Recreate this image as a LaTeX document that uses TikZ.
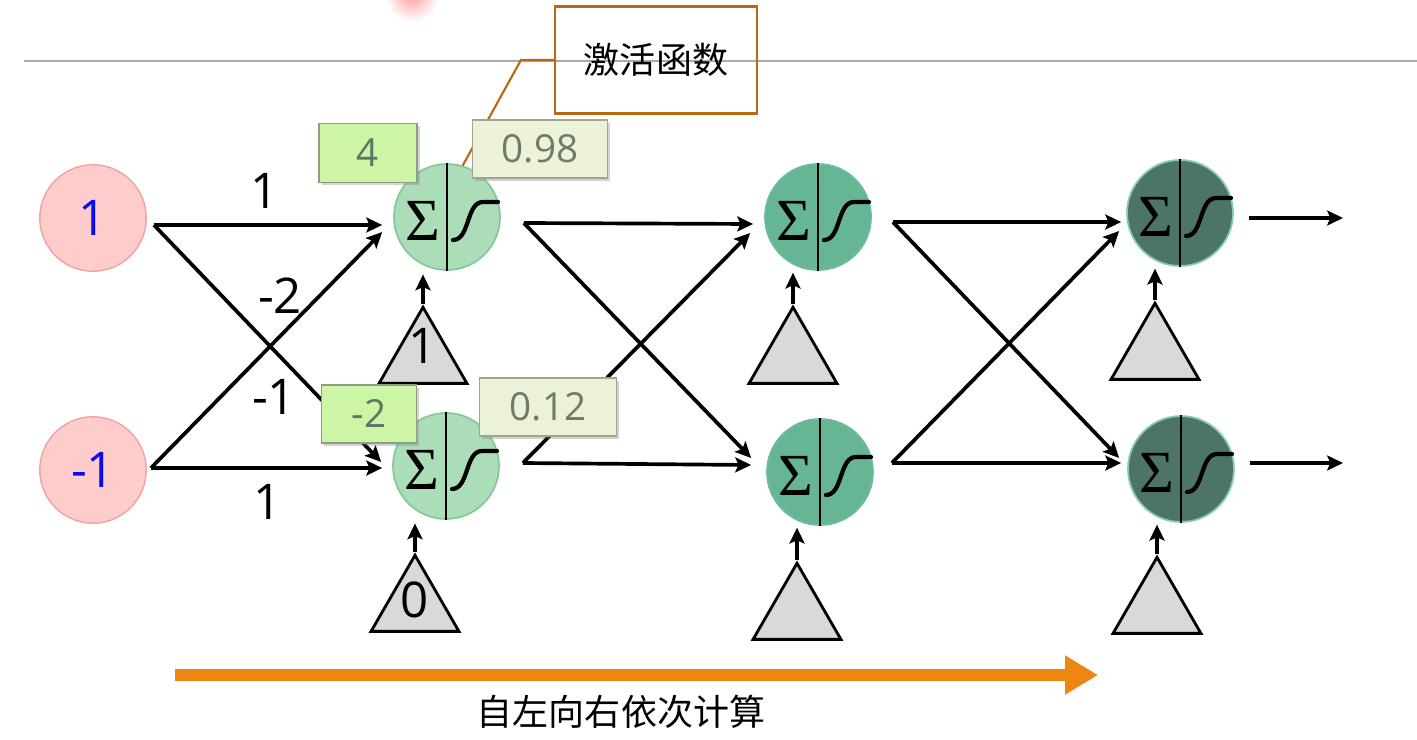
\documentclass[tikz,border=0pt]{standalone}
\usepackage{fontspec}
\setmainfont{Open Sans}
\newfontfamily\cjk{Noto Sans CJK SC}
\newfontfamily\sigfont{Liberation Serif}
\usetikzlibrary{arrows.meta,shapes.geometric,shadows}
\definecolor{inpink}{HTML}{FFCCCC}
\definecolor{inborder}{HTML}{EFA3A3}
\definecolor{lone}{HTML}{ABDDB9}
\definecolor{loneb}{HTML}{86C89C}
\definecolor{ltwo}{HTML}{66B595}
\definecolor{ltwob}{HTML}{6CBB9A}
\definecolor{lthree}{HTML}{4C7469}
\definecolor{lthreeb}{HTML}{86CDB0}
\definecolor{wbox}{HTML}{CCF5A6}
\definecolor{wboxb}{HTML}{8E9E84}
\definecolor{vbox}{HTML}{EBF2D8}
\definecolor{vboxb}{HTML}{A0A592}
\definecolor{wtext}{HTML}{5C7663}
\definecolor{vtext}{HTML}{6E7B6A}
\definecolor{callout}{HTML}{B8680E}
\definecolor{orangearr}{HTML}{EE8712}
\definecolor{trifill}{HTML}{D9D9D9}
\definecolor{inblue}{HTML}{0A0AF5}
\begin{document}
\begin{tikzpicture}[x=0.02cm,y=-0.02cm,
  inp/.style={circle,minimum size=2.13cm,inner sep=0pt,draw=inborder,line width=0.8pt,fill=inpink,
    text=inblue,font=\fontsize{28}{28}\selectfont},
  neuron/.style={circle,minimum size=2.12cm,inner sep=0pt,line width=1pt},
  arr/.style={line width=2.1pt,-{Stealth[length=9pt,width=8.5pt,inset=1.8pt]}},
  wlab/.style={font=\fontsize{28}{28}\selectfont,inner sep=0pt},
  sig/.style={font=\sigfont\fontsize{34}{34}\selectfont,inner sep=0pt},
  sigl/.style={line width=2.4pt,line cap=round},
  bias/.style={regular polygon,regular polygon sides=3,minimum size=2.03cm,inner sep=0pt,
    draw=black,line width=1.6pt,fill=trifill},
  wbx/.style={draw=wboxb,fill=wbox,line width=0.8pt,text=wtext,inner sep=0pt,
    font=\fontsize{22}{22}\selectfont,
    drop shadow={shadow xshift=1.5pt,shadow yshift=-1.5pt,opacity=0.35}},
  vbx/.style={draw=vboxb,fill=vbox,line width=0.8pt,text=vtext,inner sep=0pt,
    font=\fontsize{22}{22}\selectfont,
    drop shadow={shadow xshift=1.5pt,shadow yshift=-1.5pt,opacity=0.35}},
]
\useasboundingbox (0,0) rectangle (1417,740);
\clip (0,0) rectangle (1417,740);
\fill[white] (0,0) rectangle (1417,740);

% faint red pointer blob
\shade[inner color=red!40,outer color=white] (412,-6) circle[radius=0.55cm];

% top rule
\draw[line width=1.1pt,color={rgb,255:red,170;green,170;blue,170}] (24,61) -- (1417,61);

% inputs
\node[inp] (i1) at (93,218) {1};
\node[inp] (i2) at (93,470) {-1};

% neurons
\node[neuron,draw=loneb,fill=lone] (h1) at (447,217) {};
\node[neuron,draw=loneb,fill=lone] (h2) at (446,466) {};
\node[neuron,draw=ltwob,fill=ltwo] (m1) at (818,217) {};
\node[neuron,draw=ltwob,fill=ltwo] (m2) at (820,472) {};
\node[neuron,draw=lthreeb,fill=lthree] (o1) at (1180,213) {};
\node[neuron,draw=lthreeb,fill=lthree] (o2) at (1181,469) {};

\foreach \n in {h1,h2,m1,m2,o1,o2}{
  \draw[line width=1.2pt] (\n.north) -- (\n.south);
  \node[sig] at ([shift={(-24,4)}]\n.center) {Σ};
  \draw[sigl] ([shift={(6,23)}]\n.center) .. controls ([shift={(23,23)}]\n.center) and ([shift={(19,-15)}]\n.center) .. ([shift={(36,-15)}]\n.center) -- ([shift={(51,-15)}]\n.center);
}

% bias triangles
\node[bias] (b1) at (423,358) {};
\node[bias] (b2) at (415,606) {};
\node[bias] (b3) at (793,358) {};
\node[bias] (b4) at (797,614) {};
\node[bias] (b5) at (1155,354) {};
\node[bias] (b6) at (1157,608) {};
\node[wlab] at ([shift={(0,-12)}]b1.center) {1};
\node[wlab] at ([shift={(0,-6)}]b2.center) {0};

\draw[arr] (b1.corner 1) -- ([yshift=-2pt]b1.corner 1 |- h1.south);
\draw[arr] (b2.corner 1) -- ([yshift=-2pt]b2.corner 1 |- h2.south);
\draw[arr] (b3.corner 1) -- ([yshift=-1pt]b3.corner 1 |- m1.south);
\draw[arr] (b4.corner 1) -- ([yshift=-1pt]b4.corner 1 |- m2.south);
\draw[arr] (b5.corner 1) -- ([yshift=-1pt]b5.corner 1 |- o1.south);
\draw[arr] (b6.corner 1) -- ([yshift=-1pt]b6.corner 1 |- o2.south);

% layer 0 -> 1
\draw[arr] ([shift={(7,7)}]i1.east) -- ([shift={(-11,8)}]h1.west);
\draw[arr] ([shift={(7,7)}]i1.east) -- ([shift={(-11,-4)}]h2.west);
\draw[arr] ([shift={(4,-2)}]i2.east) -- ([shift={(-10,2)}]h2.west);
\draw[arr] ([shift={(4,-2)}]i2.east) -- ([shift={(-11,15)}]h1.west);

% layer 1 -> 2
\draw[arr] ([shift={(23,6)}]h1.east) -- ([shift={(-11,7)}]m1.west);
\draw[arr] ([shift={(23,6)}]h1.east) -- ([shift={(-15,-14)}]m2.west);
\draw[arr] ([shift={(23,-3)}]h2.east) -- ([shift={(-15,-7)}]m2.west);
\draw[arr] ([shift={(23,-3)}]h2.east) -- ([shift={(-14,16)}]m1.west);

% layer 2 -> 3
\draw[arr] ([shift={(21,5)}]m1.east) -- ([shift={(-5,9)}]o1.west);
\draw[arr] ([shift={(21,5)}]m1.east) -- ([shift={(-8,-11)}]o2.west);
\draw[arr] ([shift={(18,-9)}]m2.east) -- ([shift={(-6,-6)}]o2.west);
\draw[arr] ([shift={(18,-9)}]m2.east) -- ([shift={(-7,18)}]o1.west);

% outputs
\coordinate (out1) at (1343,218);
\coordinate (out2) at (1343,463);
\draw[arr] ([shift={(15,5)}]o1.east) -- (out1);
\draw[arr] ([shift={(15,-6)}]o2.east) -- (out2);

% weight labels
\node[wlab] (w1) at (265,191) {1};
\node[wlab] (w2) at (280,296) {-2};
\node[wlab] (w3) at (274,397) {-1};
\node[wlab] (w4) at (268,502) {1};

% callout
\node[draw=callout,line width=1.2pt,minimum width=4.04cm,minimum height=2.14cm,inner sep=0pt,
  font=\cjk\fontsize{20.5}{20.5}\selectfont] (act) at (656,60) {激活函数};
\draw[callout,line width=1.2pt] (act.west) -- ([xshift=-33*0.02cm]act.west) -- (h1.73);

% value boxes
\node[wbx,minimum width=1.96cm,minimum height=1.18cm] (v1) at (368,153) {4};
\node[vbx,minimum width=2.7cm,minimum height=1.16cm] (v2) at (540,149) {0.98};
\node[wbx,minimum width=1.9cm,minimum height=1.16cm] (v3) at (369,414) {-2};
\node[vbx,minimum width=2.74cm,minimum height=1.16cm] (v4) at (548,407) {0.12};

% direction arrow
\coordinate (os) at (175,675);
\coordinate (oe) at (1098,675);
\draw[orangearr,line width=0.24cm,-{Triangle[length=0.66cm,width=0.74cm]}] (os) -- (oe);
\node[font=\cjk\fontsize{20.5}{20.5}\selectfont,inner sep=0pt] (dir) at (621,712) {自左向右依次计算};
\end{tikzpicture}
\end{document}
